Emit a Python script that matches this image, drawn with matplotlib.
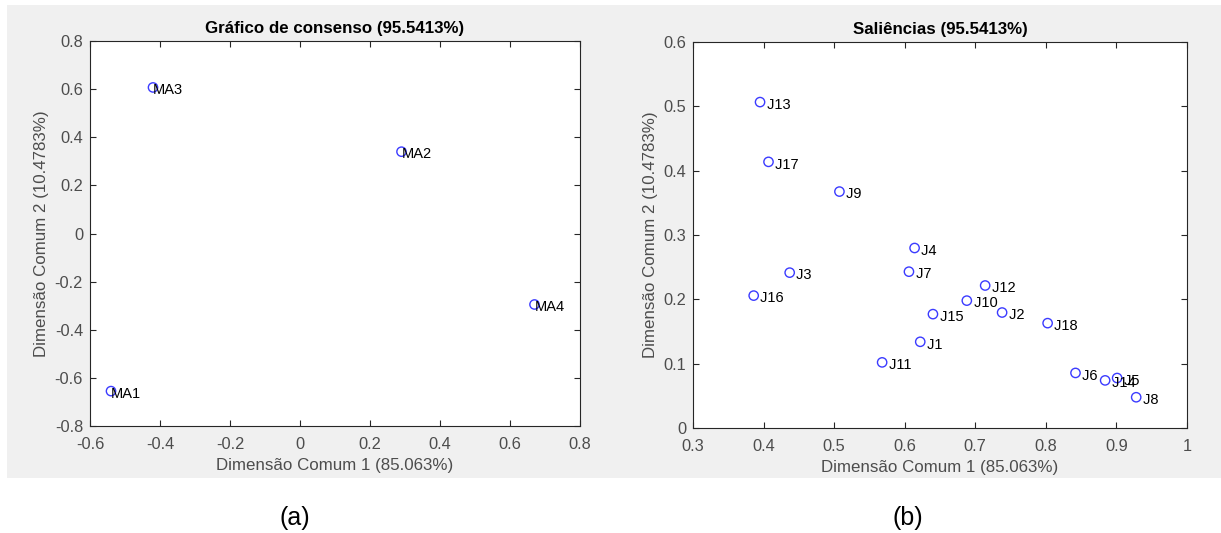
import matplotlib
matplotlib.use("Agg")
import matplotlib.pyplot as plt
from matplotlib.patches import Rectangle
import numpy as np

plt.rcParams['font.family'] = ['Liberation Sans', 'DejaVu Sans']

# consensus plot (a)
ma_names = ["MA1", "MA2", "MA3", "MA4"]
ma_x = [-0.54, 0.29, -0.42, 0.67]
ma_y = [-0.655, 0.34, 0.607, -0.295]

# saliences plot (b)
j_names = ["J1", "J2", "J3", "J4", "J5", "J6", "J7", "J8", "J9", "J10",
           "J11", "J12", "J13", "J14", "J15", "J16", "J17", "J18"]
j_x = [0.622, 0.738, 0.437, 0.614, 0.901, 0.842, 0.606, 0.928, 0.5075, 0.688,
       0.568, 0.714, 0.395, 0.884, 0.640, 0.386, 0.407, 0.8025]
j_y = [0.134, 0.1795, 0.2415, 0.2798, 0.0777, 0.0856, 0.243, 0.0478, 0.3675, 0.198,
       0.102, 0.2215, 0.5066, 0.074, 0.177, 0.2058, 0.4137, 0.163]

xlab = "Dimensão Comum 1 (85.063%)"
ylab = "Dimensão Comum 2 (10.4783%)"
W, H = 1221, 533
axcol = (0.15, 0.15, 0.15)
tickcol = (0.3, 0.3, 0.3)


def fig_rect(fig, x0, y0, x1, y1):
    # pixel box (top-left origin) -> figure fraction, drawn under the axes
    fig.patches.append(Rectangle((x0 / W, 1 - y1 / H), (x1 - x0) / W, (y1 - y0) / H,
                                 transform=fig.transFigure, facecolor="#f0f0f0",
                                 edgecolor="none", zorder=-10))


def fmt(v):
    v = round(float(v), 2)
    return "%g" % (0.0 if v == 0 else v)


def style(ax, xt, yt):
    ax.set_facecolor("white")
    ax.set_xticks(xt)
    ax.set_yticks(yt)
    ax.set_xticklabels([fmt(v) for v in xt])
    ax.set_yticklabels([fmt(v) for v in yt])
    ax.set_xlim(xt[0], xt[-1])
    ax.set_ylim(yt[0], yt[-1])
    ax.tick_params(direction="in", top=True, right=True, length=4, width=0.8,
                   color=axcol, labelcolor=tickcol, labelsize=11.8, pad=5)
    ax.tick_params(axis="x", pad=8)
    for s in ax.spines.values():
        s.set_color(axcol)
        s.set_linewidth(0.8)
    ax.set_xlabel(xlab, fontsize=12.2, color=tickcol, labelpad=4)
    ax.set_ylabel(ylab, fontsize=12.2, color=tickcol, labelpad=4)


fig = plt.figure(figsize=(W / 100, H / 100), dpi=100)
fig_rect(fig, 7, 5, 1221, 478)

ax1 = fig.add_axes([90 / W, 1 - 426 / H, 490 / W, 385 / H])
ax1.scatter(ma_x, ma_y, s=45, facecolors="none", edgecolors="#3b3bff", linewidths=1.0, zorder=3)
for n, x, y in zip(ma_names, ma_x, ma_y):
    ax1.annotate(n, (x, y), xytext=(0, -2), textcoords="offset points",
                 fontsize=10.5, va="center", ha="left", color="black")
style(ax1, np.round(np.arange(-0.6, 0.81, 0.2), 1), np.round(np.arange(-0.8, 0.81, 0.2), 1))
ax1.set_title("Gráfico de consenso (95.5413%)", fontsize=12.2, fontweight="bold", pad=6)

ax2 = fig.add_axes([693 / W, 1 - 428 / H, 494 / W, 386 / H])
ax2.scatter(j_x, j_y, s=45, facecolors="none", edgecolors="#3b3bff", linewidths=1.0, zorder=3)
for n, x, y in zip(j_names, j_x, j_y):
    ax2.annotate(" " + n, (x, y), xytext=(2, -2), textcoords="offset points",
                 fontsize=10.5, va="center", ha="left", color="black")
style(ax2, np.round(np.arange(0.3, 1.01, 0.1), 1), np.round(np.arange(0, 0.61, 0.1), 1))
ax2.set_title("Saliências (95.5413%)", fontsize=12.2, fontweight="bold", pad=6)

fig.text(295 / W, 1 - 518 / H, "(a)", fontsize=18, ha="center", va="center")
fig.text(908 / W, 1 - 518 / H, "(b)", fontsize=18, ha="center", va="center")

fig.savefig("out.png", dpi=100, facecolor="white")
